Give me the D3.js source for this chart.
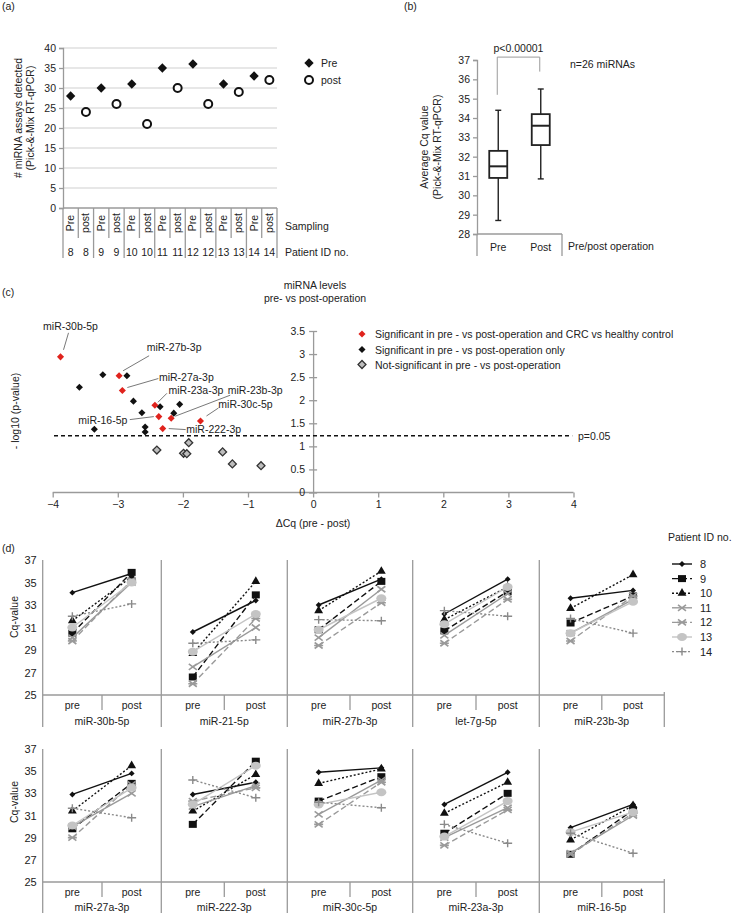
<!DOCTYPE html>
<html><head><meta charset="utf-8">
<script src="https://cdn.jsdelivr.net/npm/d3@7"></script>
<style>
body{margin:0;background:#fff}
text{font-family:"Liberation Sans",Arial,Helvetica,sans-serif;fill:#222}
</style>
</head><body>
<svg id="c" width="732" height="913"></svg>
<script>
// ---------------- DATA ----------------
// (a)
const aSampling = ["Pre","post","Pre","post","Pre","post","Pre","post","Pre","post","Pre","post","Pre","post"];
const aPatientIds = ["8","8","9","9","10","10","11","11","12","12","13","13","14","14"];
const aPre = [28, 30, 31, 35, 36, 31, 33];
const aPost = [24, 26, 21, 30, 26, 29, 32];
const aTicks = [0,5,10,15,20,25,30,35,40];
// (b)  [low whisker, Q1, median, Q3, high whisker]
const bGroups = ["Pre","Post"];
const bPre = [28.7, 30.9, 31.5, 32.3, 34.4];
const bPost = [30.85, 32.6, 33.6, 34.2, 35.5];
const bTicks = [28,29,30,31,32,33,34,35,36,37];
const bBracket = [35.2, 37.15, 36.4]; // left foot, top, right foot
// (c)
const redNames = ["miR-30b-5p","miR-27b-3p","miR-27a-3p","miR-23a-3p","miR-23b-3p","miR-30c-5p","miR-16-5p","miR-222-3p"];
const redDCq = [-3.88, -2.98, -2.93, -2.43, -2.18, -1.73, -2.37, -2.31];
const redLogP = [2.94, 2.53, 2.21, 1.89, 1.61, 1.55, 1.645, 1.385];
const blackDCq = [-3.23, -2.86, -3.59, -2.76, -2.63, -2.35, -2.05, -2.14, -2.58, -2.58, -3.36];
const blackLogP = [2.55, 2.53, 2.28, 1.98, 1.73, 1.86, 1.91, 1.72, 1.42, 1.31, 1.37];
const greyDCq = [-2.40, -1.91, -1.99, -1.94, -1.39, -1.24, -0.80];
const greyLogP = [0.92, 1.08, 0.85, 0.84, 0.88, 0.62, 0.58];
const cThreshold = 1.23;
const cXTicks = [-4,-3,-2,-1,0,1,2,3,4];
const cYTicks = [0,0.5,1,1.5,2,2.5,3,3.5];
const cLegend = ["Significant in pre - vs post-operation and CRC vs healthy control",
                 "Significant in pre - vs post-operation only",
                 "Not-significant in pre - vs post-operation"];
// (d)
const dMirnas = ["miR-30b-5p","miR-21-5p","miR-27b-3p","let-7g-5p","miR-23b-3p",
                 "miR-27a-3p","miR-222-3p","miR-30c-5p","miR-23a-3p","miR-16-5p"];
const dPatients = ["8","9","10","11","12","13","14"];
// rows: miRNA, columns: patient 8..14
const cqPre = [
  [34.1, 30.5, 31.6, 30.1, 29.8, 31.0, 32.0],
  [30.6, 26.6, 28.7, 27.5, 26.0, 28.85, 29.6],
  [33.0, 30.8, 32.5, 30.1, 29.4, 30.8, 31.7],
  [32.2, 30.7, 31.7, 30.3, 29.6, 31.3, 32.5],
  [33.6, 31.4, 32.7, 30.5, 29.8, 30.5, 31.8],
  [32.9, 29.8, 31.4, 30.0, 29.0, 30.1, 31.65],
  [32.9, 30.2, 31.4, 31.8, 32.3, 32.0, 34.2],
  [34.9, 32.3, 33.9, 31.1, 30.2, 32.0, 32.2],
  [32.0, 29.4, 31.2, 29.0, 28.3, 29.1, 30.2],
  [29.9, 27.5, 28.8, 27.6, 27.5, 29.5, 29.4]
];
const cqPost = [
  [35.8, 35.9, 35.5, 35.0, 35.2, 35.0, 33.1],
  [33.4, 33.9, 35.1, 31.0, 31.8, 32.2, 29.9],
  [35.3, 35.1, 36.0, 34.4, 33.2, 33.6, 31.6],
  [35.3, 34.2, 34.6, 34.0, 33.5, 34.6, 32.0],
  [34.3, 33.8, 35.7, 33.5, 33.8, 33.3, 30.5],
  [34.8, 33.9, 35.5, 33.0, 33.8, 33.5, 30.8],
  [34.0, 35.9, 34.7, 33.7, 33.5, 35.5, 32.6],
  [35.3, 34.5, 35.2, 34.2, 34.0, 33.1, 31.7],
  [34.9, 33.0, 34.0, 31.7, 31.5, 32.3, 28.5],
  [32.0, 31.5, 31.9, 31.0, 31.2, 31.3, 27.6]
];
const dTicks = [25,27,29,31,33,35,37];

// ---------------- DRAWING ----------------
const svg = d3.select("#c");
const AX = "#9a9a9a";
const FS = 10.5;

function label(g, x, y, s, o = {}) {
  return g.append("text").attr("x", x).attr("y", y).text(s)
    .attr("font-size", o.fs || FS)
    .attr("text-anchor", o.anchor || "start")
    .attr("transform", o.rot ? `rotate(${o.rot},${x},${y})` : null)
    .style("fill", o.fill || "#222");
}
function line(g, x1, y1, x2, y2, o = {}) {
  return g.append("line").attr("x1", x1).attr("y1", y1).attr("x2", x2).attr("y2", y2)
    .attr("stroke", o.stroke || AX).attr("stroke-width", o.w || 1.3)
    .attr("stroke-dasharray", o.dash || null);
}
function styleAxis(sel) {
  sel.select(".domain").attr("stroke", AX).attr("stroke-width", 1.3);
  sel.selectAll(".tick line").attr("stroke", AX).attr("stroke-width", 1.3);
  sel.selectAll(".tick text").attr("font-size", FS).style("fill", "#222")
     .attr("font-family", '"Liberation Sans",Arial,sans-serif');
}
const diamond = s => d3.symbol(d3.symbolSquare, s * s)();

// panel letters
label(svg, 2, 10, "(a)", {fs: 10.5});
label(svg, 404, 10, "(b)", {fs: 10.5});
label(svg, 2, 296, "(c)", {fs: 10.5});
label(svg, 2, 552, "(d)", {fs: 10.5});

// ===== (a) =====
{
  const g = svg.append("g");
  const x = d3.scaleBand().domain(d3.range(aSampling.length)).range([63, 277]);
  const y = d3.scaleLinear().domain([0, 40]).range([208, 48]);
  aTicks.filter(t => t > 0).forEach(t => line(g, 63, y(t), 277, y(t), {stroke: "#cfcfcf", w: 1}));
  const ax = g.append("g").attr("transform", "translate(63,0)")
    .call(d3.axisLeft(y).tickValues(aTicks).tickSize(4).tickPadding(3));
  styleAxis(ax);
  line(g, 63, 208, 277, 208);
  // category table
  const rowTop = 208, rowMid = 238, rowBot = 258;
  line(g, 63, rowTop, 63, rowBot);
  for (let j = 1; j <= aSampling.length; j++) {
    const xb = x(0) + j * x.step();
    const boundary = j === aSampling.length || aPatientIds[j] !== aPatientIds[j - 1];
    line(g, xb, rowTop, xb, boundary ? rowBot : rowMid);
  }
  aSampling.forEach((s, i) => {
    const cx = x(i) + x.bandwidth() / 2 + 3.5;
    label(g, cx, 223, s, {anchor: "middle", rot: -90});
    label(g, x(i) + x.bandwidth() / 2, 256, aPatientIds[i], {anchor: "middle"});
  });
  label(g, 285, 229.5, "Sampling");
  label(g, 285, 256, "Patient ID no.");
  // y label
  label(g, 22, 118, "# miRNA assays detected", {anchor: "middle", rot: -90});
  label(g, 34, 118, "(Pick-&-Mix RT-qPCR)", {anchor: "middle", rot: -90});
  // points
  const pts = [];
  aPre.forEach((v, k) => pts.push({i: 2 * k, v, t: "pre"}));
  aPost.forEach((v, k) => pts.push({i: 2 * k + 1, v, t: "post"}));
  pts.forEach(p => {
    const cx = x(p.i) + x.bandwidth() / 2, cy = y(p.v);
    if (p.t === "pre") g.append("path").attr("d", diamond(6.6)).attr("transform", `translate(${cx},${cy}) rotate(45)`).attr("fill", "#111");
    else g.append("circle").attr("cx", cx).attr("cy", cy).attr("r", 4).attr("fill", "#fff").attr("stroke", "#111").attr("stroke-width", 2);
  });
  // legend
  g.append("path").attr("d", diamond(6.6)).attr("transform", "translate(309,63) rotate(45)").attr("fill", "#111");
  label(g, 321, 67, "Pre");
  g.append("circle").attr("cx", 309).attr("cy", 80).attr("r", 4).attr("fill", "#fff").attr("stroke", "#111").attr("stroke-width", 2);
  label(g, 321, 84, "post");
}

// ===== (b) =====
{
  const g = svg.append("g");
  const y = d3.scaleLinear().domain([28, 37]).range([234, 60]);
  const x = d3.scaleBand().domain(bGroups).range([477, 562]);
  const ax = g.append("g").attr("transform", "translate(477,0)")
    .call(d3.axisLeft(y).tickValues(bTicks).tickSize(4).tickPadding(3));
  styleAxis(ax);
  line(g, 477, 234, 562, 234);
  line(g, 477, 234, 477, 256);
  line(g, 562, 234, 562, 256);
  bGroups.forEach(k => label(g, x(k) + x.bandwidth() / 2, 250.5, k, {anchor: "middle"}));
  label(g, 568, 249.5, "Pre/post operation");
  label(g, 428, 147, "Average Cq value", {anchor: "middle", rot: -90});
  label(g, 441, 147, "(Pick-&-Mix RT-qPCR)", {anchor: "middle", rot: -90});
  [bPre, bPost].forEach((s, i) => {
    const cx = x(bGroups[i]) + x.bandwidth() / 2, bw = 18;
    line(g, cx, y(s[0]), cx, y(s[1]), {stroke: "#222", w: 1.4});
    line(g, cx, y(s[3]), cx, y(s[4]), {stroke: "#222", w: 1.4});
    line(g, cx - 3, y(s[0]), cx + 3, y(s[0]), {stroke: "#222", w: 1.4});
    line(g, cx - 3, y(s[4]), cx + 3, y(s[4]), {stroke: "#222", w: 1.4});
    g.append("rect").attr("x", cx - bw / 2).attr("y", y(s[3])).attr("width", bw).attr("height", y(s[1]) - y(s[3]))
      .attr("fill", "#fff").attr("stroke", "#222").attr("stroke-width", 1.8);
    line(g, cx - bw / 2, y(s[2]), cx + bw / 2, y(s[2]), {stroke: "#222", w: 2});
  });
  const xl = x("Pre") + x.bandwidth() / 2 - 1, xr = x("Post") + x.bandwidth() / 2 - 1;
  g.append("path").attr("d", `M${xl},${y(bBracket[0])}V${y(bBracket[1])}H${xr}V${y(bBracket[2])}`)
    .attr("fill", "none").attr("stroke", AX).attr("stroke-width", 1);
  label(g, (xl + xr) / 2, 51.5, "p<0.00001", {anchor: "middle"});
  label(g, 570, 68, "n=26 miRNAs");
}

// ===== (c) =====
{
  const g = svg.append("g");
  const x = d3.scaleLinear().domain([-4, 4]).range([52.7, 573.5]);
  const y = d3.scaleLinear().domain([0, 3.5]).range([492.5, 331]);
  label(g, 315, 289, "miRNA levels", {anchor: "middle"});
  label(g, 315, 302, "pre- vs post-operation", {anchor: "middle"});
  // x axis
  const xa = g.append("g").attr("transform", `translate(0,${y(0)})`)
    .call(d3.axisBottom(x).tickValues(cXTicks).tickSize(5).tickPadding(3).tickFormat(d => d < 0 ? "\u2212" + (-d) : d));
  styleAxis(xa);
  xa.select(".domain").attr("d", `M${x(-4)},0H${x(4)}`);
  // y axis at x=0 with crossing ticks
  const ya = g.append("g").attr("transform", `translate(${x(0)},0)`)
    .call(d3.axisLeft(y).tickValues(cYTicks).tickSize(0).tickPadding(8).tickFormat(d => String(d)));
  styleAxis(ya);
  ya.selectAll(".tick").append("line").attr("x1", -4).attr("x2", 4).attr("stroke", AX).attr("stroke-width", 1.3);
  // threshold
  line(g, x(-3.98), y(cThreshold), x(3.98), y(cThreshold), {stroke: "#111", w: 1.3, dash: "4,3"});
  label(g, 578, y(cThreshold) + 4, "p=0.05");
  // axis titles
  label(g, 19, 411, "- log10 (p-value)", {anchor: "middle", rot: -90});
  label(g, 313, 527, "\u0394Cq (pre - post)", {anchor: "middle"});
  // points
  const mk = (cx, cy, type) => {
    const p = g.append("path").attr("transform", `translate(${cx},${cy}) rotate(45)`);
    if (type === "red") p.attr("d", diamond(5)).attr("fill", "#e0231d");
    else if (type === "black") p.attr("d", diamond(5)).attr("fill", "#111");
    else p.attr("d", diamond(5.6)).attr("fill", "#bdbdbd").attr("stroke", "#333").attr("stroke-width", 1.3);
  };
  greyDCq.forEach((d, i) => mk(x(d), y(greyLogP[i]), "grey"));
  blackDCq.forEach((d, i) => mk(x(d), y(blackLogP[i]), "black"));
  redDCq.forEach((d, i) => mk(x(d), y(redLogP[i]), "red"));
  // annotation layout (pixel offsets from the point): text centre dx,dy ; leader start / end
  const ann = [
    {dx: 10, dy: -31, l: [8, -24, 3, -7]},
    {dx: 55, dy: -29, l: [30, -20, 4, -5]},
    {dx: 64, dy: -14, l: [36, -12, 5, -3]},
    {dx: 41, dy: -15, l: [12, -12, 3, -3]},
    {dx: 84, dy: -28, l: [59, -23, 4, -2]},
    {dx: 45, dy: -17, l: [18, -13, 6, -5]},
    {dx: -56, dy: 3, l: [-29, 3, -5, 0]},
    {dx: 51, dy: 0, l: [23, 1, 6, 0]}
  ];
  redNames.forEach((n, i) => {
    const px = x(redDCq[i]), py = y(redLogP[i]), a = ann[i];
    line(g, px + a.l[0], py + a.l[1], px + a.l[2], py + a.l[3], {stroke: "#555", w: 0.8});
    label(g, px + a.dx, py + a.dy + 4, n, {anchor: "middle"});
  });
  // legend
  const ly = [334, 349.5, 364.5];
  ["red", "black", "grey"].forEach((t, i) => {
    mk(362, ly[i], t);
    label(g, 375, ly[i] + 4, cLegend[i]);
  });
}

// ===== (d) =====
{
  const g = svg.append("g");
  const xp = d3.scaleLinear().domain([0, 1, 2, 3, 4, 5]).range([42.7, 161.3, 287.3, 412.7, 539.3, 664.3]);
  const rows = [
    {y: d3.scaleLinear().domain([25, 37]).range([695, 560]), bottom: 727, lab: 709, name: 724.5, ylab: 617},
    {y: d3.scaleLinear().domain([25, 37]).range([882, 749]), bottom: 913, lab: 896, name: 911, ylab: 802}
  ];
  const styles = [
    {c: "#111", dash: null, m: "diamond"},
    {c: "#111", dash: "6,3", m: "square"},
    {c: "#111", dash: "2,2", m: "triangle"},
    {c: "#9a9a9a", dash: null, m: "x"},
    {c: "#9a9a9a", dash: "6,3", m: "aster"},
    {c: "#c4c4c4", dash: null, m: "circle"},
    {c: "#8a8a8a", dash: "2,2", m: "plus"}
  ];
  const marker = (gg, cx, cy, st) => {
    const t = `translate(${cx},${cy})`;
    switch (st.m) {
      case "diamond": gg.append("path").attr("d", diamond(4.2)).attr("transform", t + " rotate(45)").attr("fill", st.c); break;
      case "square": gg.append("rect").attr("x", cx - 4).attr("y", cy - 3.5).attr("width", 8).attr("height", 7).attr("fill", st.c); break;
      case "triangle": gg.append("path").attr("d", d3.symbol(d3.symbolTriangle, 34)()).attr("transform", t).attr("fill", st.c); break;
      case "x": gg.append("path").attr("d", "M-4,-3L4,3M-4,3L4,-3").attr("transform", t).attr("stroke", st.c).attr("stroke-width", 1.6).attr("fill", "none"); break;
      case "aster": gg.append("path").attr("d", "M-4,-3L4,3M-4,3L4,-3M-4.5,0H4.5").attr("transform", t).attr("stroke", st.c).attr("stroke-width", 1.6).attr("fill", "none"); break;
      case "circle": gg.append("ellipse").attr("cx", cx).attr("cy", cy).attr("rx", 5).attr("ry", 4).attr("fill", st.c); break;
      case "plus": gg.append("path").attr("d", "M-4.5,0H4.5M0,-4V4").attr("transform", t).attr("stroke", st.c).attr("stroke-width", 1.4).attr("fill", "none"); break;
    }
  };
  rows.forEach((r, ri) => {
    const top = r.y(37), base = r.y(25);
    // axes
    const ya = g.append("g").attr("transform", `translate(${xp(0)},0)`)
      .call(d3.axisLeft(r.y).tickValues(dTicks).tickSize(0).tickPadding(6));
    styleAxis(ya);
    ya.select(".domain").remove();
    ya.selectAll(".tick text").attr("font-size", 11);
    line(g, xp(0), top, xp(0), r.bottom);
    line(g, xp(0), base, xp(5), base);
    for (let k = 1; k < 5; k++) line(g, xp(k), top, xp(k), r.bottom);
    line(g, xp(5), base - 3, xp(5), r.bottom);
    for (let k = 0; k < 5; k++) {
      line(g, xp(k + 0.5), base, xp(k + 0.5), base + 15);
      label(g, xp(k + 0.25), r.lab, "pre", {anchor: "middle"});
      label(g, xp(k + 0.75), r.lab, "post", {anchor: "middle"});
      label(g, xp(k + 0.5), r.name, dMirnas[ri * 5 + k], {anchor: "middle"});
    }
    label(g, 18, r.ylab, "Cq-value", {anchor: "middle", rot: -90});
    // series
    for (let k = 0; k < 5; k++) {
      const mi = ri * 5 + k;
      const x1 = xp(k + 0.25), x2 = xp(k + 0.75);
      dPatients.forEach((p, pi) => {
        const st = styles[pi];
        const y1 = r.y(cqPre[mi][pi]), y2 = r.y(cqPost[mi][pi]);
        line(g, x1, y1, x2, y2, {stroke: st.c, w: 1.4, dash: st.dash});
        marker(g, x1, y1, st);
        marker(g, x2, y2, st);
      });
    }
  });
  // legend
  label(g, 668, 541, "Patient ID no.");
  dPatients.forEach((p, pi) => {
    const ly = 564 + pi * 14.6, st = styles[pi];
    line(g, 672, ly, 692, ly, {stroke: st.c, w: 1.4, dash: st.dash});
    marker(g, 682, ly, st);
    label(g, 700, ly + 4, p, {fs: 11});
  });
}
</script>
</body></html>
